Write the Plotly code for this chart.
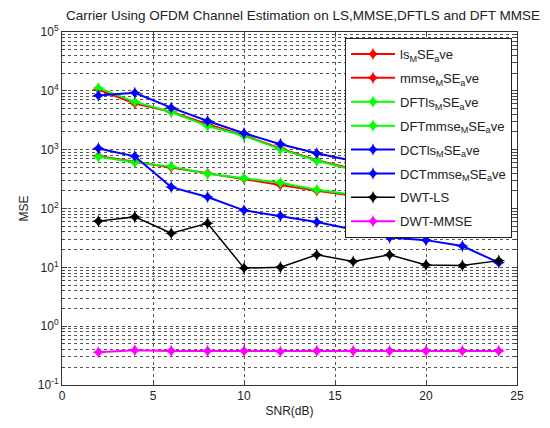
import plotly.graph_objects as go

snr = [2, 4, 6, 8, 10, 12, 14, 16, 18, 20, 22, 24]

ls_mse = [10500, 6100, 4400, 2700, 1750, 1050, 660, 470, 330, 240, 170, 120]
mmse_mse = [780, 620, 500, 395, 320, 252, 200, 165, 135, 110, 90, 75]
dftls_mse = [11200, 6500, 4370, 2530, 1720, 1020, 650, 460, 320, 235, 165, 118]
dftmmse_mse = [760, 610, 515, 390, 328, 274, 208, 170, 140, 115, 95, 80]
dctls_mse = [8300, 9250, 5170, 3070, 1900, 1240, 870, 640, 470, 350, 260, 190]
dctmmse_mse = [1050, 770, 231, 157, 93, 75, 59, 44, 32, 29, 23, 12]
dwtls_mse = [61, 72, 38, 56, 9.7, 10, 16.3, 12.6, 16.3, 11, 10.7, 13]
dwtmmse_mse = [0.36, 0.39, 0.38, 0.38, 0.38, 0.37, 0.38, 0.38, 0.38, 0.38, 0.38, 0.38]

names = ["ls<sub>M</sub>SE<sub>a</sub>ve", "mmse<sub>M</sub>SE<sub>a</sub>ve",
         "DFTls<sub>M</sub>SE<sub>a</sub>ve", "DFTmmse<sub>M</sub>SE<sub>a</sub>ve",
         "DCTls<sub>M</sub>SE<sub>a</sub>ve", "DCTmmse<sub>M</sub>SE<sub>a</sub>ve",
         "DWT-LS", "DWT-MMSE"]
series = [ls_mse, mmse_mse, dftls_mse, dftmmse_mse, dctls_mse, dctmmse_mse, dwtls_mse, dwtmmse_mse]
colors = ["#FF0000", "#FF0000", "#00FF00", "#00FF00", "#0000FF", "#0000FF", "#000000", "#FF00FF"]
widths = [2, 2, 2, 2, 2, 2, 1.5, 2]

ytickvals = [0.1, 1, 10, 100, 1000, 10000, 100000]
yticktext = ["10<sup>-1</sup>", "10<sup>0</sup>", "10<sup>1</sup>", "10<sup>2</sup>",
             "10<sup>3</sup>", "10<sup>4</sup>", "10<sup>5</sup>"]
xtickvals = [0, 5, 10, 15, 20, 25]

fig = go.Figure()
for i, (nm, ys, c, w) in enumerate(zip(names, series, colors, widths)):
    fig.add_trace(go.Scatter(
        x=snr, y=ys, name=nm, mode="lines+markers", legendgroup=f"g{i}",
        line=dict(color=c, width=w),
        marker=dict(symbol="star-diamond", size=9, color=c, line=dict(width=0)),
    ))

font = "Liberation Sans, Arial, sans-serif"
grid_dash = "3px,3px"
fig.update_layout(
    width=550, height=428,
    margin=dict(l=62, r=33, t=32, b=40),
    paper_bgcolor="white", plot_bgcolor="white",
    font=dict(family=font, size=12, color="#222222"),
    title=dict(text="Carrier Using OFDM Channel Estimation on LS,MMSE,DFTLS and DFT MMSE",
               x=303 / 550, xref="container", xanchor="center", y=1 - 15 / 428, yanchor="middle",
               font=dict(size=13.5, color="#222222")),
    showlegend=True,
    legend=dict(x=0.989, xanchor="right", y=0.983, yanchor="top",
                bgcolor="white", bordercolor="#222222", borderwidth=1,
                font=dict(size=13, color="#222222"), itemwidth=44,
                tracegroupgap=4),
)
fig.update_xaxes(
    range=[0, 25], tickvals=xtickvals, ticks="inside", ticklen=5,
    showline=True, linecolor="#333333", linewidth=1, mirror="allticks",
    showgrid=True, gridcolor="#555555", griddash=grid_dash, gridwidth=1,
    zeroline=False,
    title=dict(text="SNR(dB)", standoff=4, font=dict(size=12)),
)
fig.update_yaxes(
    type="log", range=[-1, 5], tickvals=ytickvals, ticktext=yticktext,
    ticks="inside", ticklen=5,
    showline=True, linecolor="#333333", linewidth=1, mirror="allticks",
    showgrid=True, gridcolor="#555555", griddash=grid_dash, gridwidth=1,
    minor=dict(showgrid=True, gridcolor="#555555", griddash=grid_dash, gridwidth=1,
               ticks="inside", ticklen=3, dtick="D1"),
    zeroline=False,
    title=dict(text="MSE", standoff=6, font=dict(size=12)),
)

fig.write_html("out.html")
